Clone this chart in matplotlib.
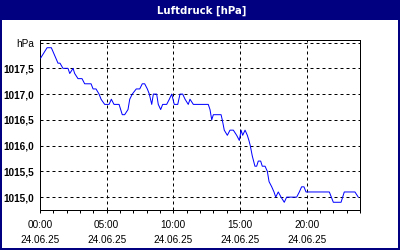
import matplotlib
matplotlib.use("Agg")
import matplotlib.pyplot as plt
import matplotlib.ticker as mticker
from matplotlib.patches import Rectangle

# Luftdruck 24.06.25, hours since midnight / hPa
hours = [0.05, 0.53, 0.85, 1.35, 1.5, 1.72, 2.1, 2.23, 2.48, 2.6, 2.85, 3.15,
         3.35, 3.83, 3.98, 4.2, 4.43, 4.58, 4.85, 5.18, 5.35, 5.55, 5.93, 6.17,
         6.35, 6.6, 6.73, 6.92, 7.22, 7.48, 7.67, 7.85, 8.05, 8.2, 8.38, 8.5,
         8.75, 8.87, 9.05, 9.2, 9.5, 9.7, 9.88, 10.07, 10.33, 10.5, 10.7, 10.88,
         11.12, 11.25, 11.5, 12.62, 12.75, 12.88, 13.0, 13.58, 13.67, 13.82,
         14.05, 14.25, 14.5, 14.75, 14.95, 15.08, 15.2, 15.38, 15.55, 15.67,
         15.77, 15.92, 16.12, 16.25, 16.37, 16.55, 16.67, 16.88, 17.05, 17.18,
         17.38, 17.55, 17.68, 17.87, 18.08, 18.32, 18.5, 19.25, 19.45, 19.62,
         19.8, 19.95, 21.7, 22.0, 22.58, 22.82, 23.62, 23.87]
pressure = [1017.7, 1017.9, 1017.9, 1017.6, 1017.6, 1017.5, 1017.5, 1017.4,
            1017.5, 1017.4, 1017.3, 1017.3, 1017.2, 1017.2, 1017.1, 1017.1,
            1017.0, 1016.9, 1016.8, 1016.8, 1016.9, 1016.8, 1016.8, 1016.6,
            1016.6, 1016.7, 1016.9, 1017.0, 1017.1, 1017.1, 1017.2, 1017.2,
            1017.1, 1017.0, 1016.8, 1017.0, 1017.0, 1016.8, 1016.7, 1016.8,
            1016.8, 1016.9, 1017.0, 1016.8, 1016.8, 1017.0, 1017.0, 1016.9,
            1016.8, 1016.9, 1016.8, 1016.8, 1016.7, 1016.5, 1016.6, 1016.6,
            1016.5, 1016.3, 1016.2, 1016.3, 1016.3, 1016.2, 1016.1, 1016.3,
            1016.2, 1016.3, 1016.2, 1016.1, 1016.0, 1015.8, 1015.6, 1015.6,
            1015.7, 1015.7, 1015.6, 1015.6, 1015.5, 1015.3, 1015.2, 1015.1,
            1015.0, 1015.1, 1015.0, 1014.9, 1015.0, 1015.0, 1015.1, 1015.2,
            1015.2, 1015.1, 1015.1, 1014.9, 1014.9, 1015.1, 1015.1, 1015.0]

x_ticks = [0, 5, 10, 15, 20]
x_labels = ["00:00\n24.06.25", "05:00\n24.06.25", "10:00\n24.06.25",
            "15:00\n24.06.25", "20:00\n24.06.25"]
y_ticks = [1015.0, 1015.5, 1016.0, 1016.5, 1017.0, 1017.5, 1018.0]
y_labels = ["1015,0", "1015,5", "1016,0", "1016,5", "1017,0", "1017,5", "hPa"]

navy = "#000080"
px = 0.72  # one pixel in points at dpi 100

fig = plt.figure(figsize=(4, 2.5), dpi=100)
fig.patch.set_facecolor("white")

# title bar and frame
fig.patches.append(Rectangle((0, 0.92), 1, 0.08, transform=fig.transFigure,
                             facecolor=navy, edgecolor="none", zorder=0))
fig.patches.append(Rectangle((0.002, 0.003), 0.996, 0.994, transform=fig.transFigure,
                             facecolor="none", edgecolor=navy, linewidth=2 * px, zorder=1))
fig.text(0.505, 0.958, "Luftdruck [hPa]", color="white", ha="center", va="center",
         fontsize=7.3, fontweight="bold", family="DejaVu Sans")

ax = fig.add_axes([0.1, 0.16, 0.8, 0.68])
ax.plot(hours, pressure, color="#0000ff", linewidth=px, zorder=3)

ax.set_xlim(0, 24)
ax.set_ylim(1014.75, 1018.05)

ax.set_xticks(x_ticks)
ax.set_xticklabels(x_labels, fontsize=7.2, family="Liberation Sans", linespacing=1.65)
ax.xaxis.set_minor_locator(mticker.MultipleLocator(1))
ax.set_yticks(y_ticks)
ax.set_yticklabels(y_labels, fontsize=7.2, family="Liberation Sans", fontweight="bold")
ax.get_yticklabels()[-1].set_fontweight("normal")

ax.tick_params(axis="x", which="both", direction="out", length=2.2, width=px,
               color="black", pad=5)
ax.tick_params(axis="y", which="both", length=0, pad=4)

ax.grid(True, which="major", color="black", linestyle=(0, (3, 3)), linewidth=px)
for s in ax.spines.values():
    s.set_color("black")
    s.set_linewidth(px)

plt.savefig("out.png", dpi=100)
